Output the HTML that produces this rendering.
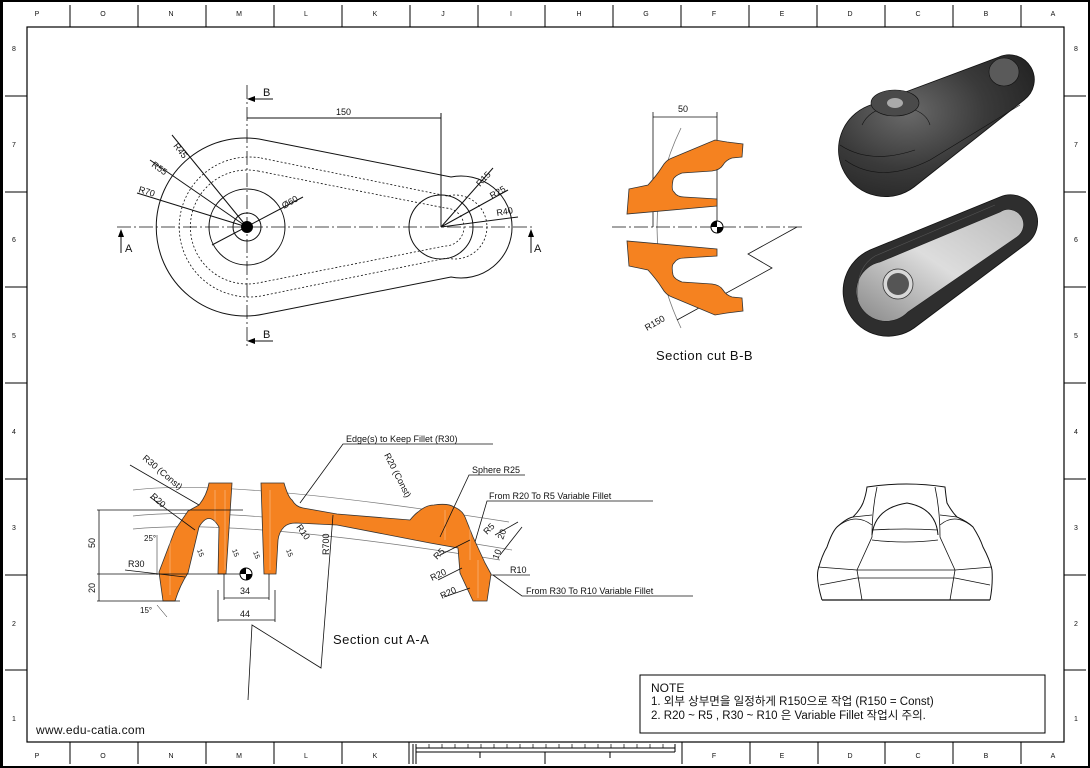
<!DOCTYPE html>
<html><head><meta charset="utf-8"><style>
html,body{margin:0;padding:0;background:#fff}
svg{display:block}
text{font-family:"Liberation Sans","Noto Sans CJK KR",sans-serif;fill:#111}
</style></head><body>
<svg width="1090" height="768" viewBox="0 0 1090 768" xmlns="http://www.w3.org/2000/svg">
<defs>
<radialGradient id="g1" cx="0.35" cy="0.4" r="0.8"><stop offset="0" stop-color="#6a6a6a"/><stop offset="0.5" stop-color="#3a3a3a"/><stop offset="1" stop-color="#1e1e1e"/></radialGradient>
<linearGradient id="g2" x1="0" y1="1" x2="1" y2="0"><stop offset="0" stop-color="#888"/><stop offset="0.5" stop-color="#ddd"/><stop offset="1" stop-color="#bbb"/></linearGradient>
</defs>
<rect x="1" y="1" width="1088" height="766" fill="none" stroke="#000" stroke-width="2"/>
<rect x="0" y="0" width="3" height="768" fill="#000"/>
<rect x="27" y="27" width="1037" height="715" fill="none" stroke="#000" stroke-width="1.2"/>
<g stroke="#000" stroke-width="1">
<line x1="70" y1="5" x2="70" y2="27"/><line x1="138" y1="5" x2="138" y2="27"/><line x1="206" y1="5" x2="206" y2="27"/><line x1="274" y1="5" x2="274" y2="27"/><line x1="342" y1="5" x2="342" y2="27"/><line x1="410" y1="5" x2="410" y2="27"/><line x1="478" y1="5" x2="478" y2="27"/><line x1="545" y1="5" x2="545" y2="27"/><line x1="613" y1="5" x2="613" y2="27"/><line x1="681" y1="5" x2="681" y2="27"/><line x1="749" y1="5" x2="749" y2="27"/><line x1="817" y1="5" x2="817" y2="27"/><line x1="885" y1="5" x2="885" y2="27"/><line x1="953" y1="5" x2="953" y2="27"/><line x1="1021" y1="5" x2="1021" y2="27"/>
<line x1="70" y1="742" x2="70" y2="764"/><line x1="138" y1="742" x2="138" y2="764"/><line x1="206" y1="742" x2="206" y2="764"/><line x1="274" y1="742" x2="274" y2="764"/><line x1="342" y1="742" x2="342" y2="764"/><line x1="409" y1="742" x2="409" y2="764"/><line x1="545" y1="752" x2="545" y2="764"/><line x1="682" y1="742" x2="682" y2="764"/><line x1="750" y1="742" x2="750" y2="764"/><line x1="818" y1="742" x2="818" y2="764"/><line x1="885" y1="742" x2="885" y2="764"/><line x1="953" y1="742" x2="953" y2="764"/><line x1="1021" y1="742" x2="1021" y2="764"/>
<line x1="5" y1="96" x2="27" y2="96"/><line x1="5" y1="192" x2="27" y2="192"/><line x1="5" y1="287" x2="27" y2="287"/><line x1="5" y1="383" x2="27" y2="383"/><line x1="5" y1="479" x2="27" y2="479"/><line x1="5" y1="575" x2="27" y2="575"/><line x1="5" y1="670" x2="27" y2="670"/>
<line x1="1064" y1="96" x2="1086" y2="96"/><line x1="1064" y1="192" x2="1086" y2="192"/><line x1="1064" y1="287" x2="1086" y2="287"/><line x1="1064" y1="383" x2="1086" y2="383"/><line x1="1064" y1="479" x2="1086" y2="479"/><line x1="1064" y1="575" x2="1086" y2="575"/><line x1="1064" y1="670" x2="1086" y2="670"/>
<line x1="416" y1="744" x2="416" y2="764"/><line x1="413" y1="744" x2="413" y2="764"/><line x1="675" y1="744" x2="675" y2="752"/>
<line x1="416" y1="752" x2="675" y2="752"/><line x1="416" y1="748" x2="675" y2="748"/>
<line x1="480" y1="752" x2="480" y2="758"/><line x1="610" y1="752" x2="610" y2="758"/>
</g>
<g stroke="#000" stroke-width="0.7">
<line x1="429" y1="744" x2="429" y2="748"/><line x1="442" y1="744" x2="442" y2="748"/><line x1="455" y1="744" x2="455" y2="748"/><line x1="468" y1="744" x2="468" y2="748"/><line x1="481" y1="744" x2="481" y2="748"/><line x1="494" y1="744" x2="494" y2="748"/><line x1="507" y1="744" x2="507" y2="748"/><line x1="520" y1="744" x2="520" y2="748"/><line x1="533" y1="744" x2="533" y2="748"/><line x1="546" y1="744" x2="546" y2="748"/><line x1="559" y1="744" x2="559" y2="748"/><line x1="572" y1="744" x2="572" y2="748"/><line x1="585" y1="744" x2="585" y2="748"/><line x1="598" y1="744" x2="598" y2="748"/><line x1="611" y1="744" x2="611" y2="748"/><line x1="624" y1="744" x2="624" y2="748"/><line x1="637" y1="744" x2="637" y2="748"/><line x1="650" y1="744" x2="650" y2="748"/><line x1="663" y1="744" x2="663" y2="748"/>
</g>
<g font-size="7" text-anchor="middle">
<text x="37" y="16">P</text><text x="103" y="16">O</text><text x="171" y="16">N</text><text x="239" y="16">M</text><text x="306" y="16">L</text><text x="375" y="16">K</text><text x="443" y="16">J</text><text x="511" y="16">I</text><text x="579" y="16">H</text><text x="646" y="16">G</text><text x="714" y="16">F</text><text x="782" y="16">E</text><text x="850" y="16">D</text><text x="918" y="16">C</text><text x="986" y="16">B</text><text x="1053" y="16">A</text>
<text x="37" y="758">P</text><text x="103" y="758">O</text><text x="171" y="758">N</text><text x="239" y="758">M</text><text x="306" y="758">L</text><text x="375" y="758">K</text><text x="714" y="758">F</text><text x="782" y="758">E</text><text x="850" y="758">D</text><text x="918" y="758">C</text><text x="986" y="758">B</text><text x="1053" y="758">A</text>
<text x="14" y="51">8</text><text x="14" y="147">7</text><text x="14" y="242">6</text><text x="14" y="338">5</text><text x="14" y="434">4</text><text x="14" y="530">3</text><text x="14" y="626">2</text><text x="14" y="721">1</text>
<text x="1076" y="51">8</text><text x="1076" y="147">7</text><text x="1076" y="242">6</text><text x="1076" y="338">5</text><text x="1076" y="434">4</text><text x="1076" y="530">3</text><text x="1076" y="626">2</text><text x="1076" y="721">1</text>
</g>

<!-- TOP VIEW -->
<g fill="none" stroke="#111" stroke-width="1">
<path d="M264,140 L451,177 A51 51 0 1 1 451,277 L264,314 A89 89 0 1 1 264,140Z"/>
<path d="M261,158 L447,196 A32 32 0 1 1 447,258 L261,296 A70 70 0 1 1 261,158Z" stroke-dasharray="2,2" stroke-width="0.8"/>
<path d="M258,171 L445,208 A19 19 0 1 1 445,246 L258,283 A57 57 0 1 1 258,171Z" stroke-dasharray="2,2" stroke-width="0.8"/>
<circle cx="247" cy="227" r="38"/><circle cx="247" cy="227" r="14"/><circle cx="441" cy="227" r="32"/>
<line x1="117" y1="227" x2="535" y2="227" stroke-dasharray="14,3,2,3" stroke-width="0.8"/>
<line x1="247" y1="85" x2="247" y2="346" stroke-dasharray="14,3,2,3" stroke-width="0.8"/>
<line x1="247" y1="118" x2="441" y2="118"/><line x1="441" y1="113" x2="441" y2="227"/>
<line x1="247" y1="227" x2="172" y2="135"/><line x1="247" y1="227" x2="150" y2="160"/><line x1="247" y1="227" x2="137" y2="193"/>
<line x1="212" y1="245" x2="303" y2="197"/>
<line x1="441" y1="227" x2="493" y2="168"/><line x1="441" y1="227" x2="508" y2="190"/><line x1="441" y1="227" x2="518" y2="217"/>
<line x1="253" y1="99" x2="273" y2="99"/><line x1="253" y1="341" x2="273" y2="341"/>
<line x1="121" y1="236" x2="121" y2="253"/><line x1="531" y1="236" x2="531" y2="253"/>
</g>
<circle cx="247" cy="227" r="6" fill="#000"/>
<path d="M247,99 l8,-3 v6z M247,341 l8,-3 v6z M121,229 l-3,8 h6z M531,229 l-3,8 h6z" fill="#000"/>
<g font-size="11">
<text x="263" y="96">B</text><text x="263" y="338">B</text><text x="125" y="252">A</text><text x="534" y="252">A</text>
</g>
<g font-size="9">
<text x="336" y="115">150</text>
<text transform="translate(173,146) rotate(52)">R45</text>
<text transform="translate(151,166) rotate(35)">R55</text>
<text transform="translate(138,192) rotate(17)">R70</text>
<text transform="translate(284,209) rotate(-30)">Ø60</text>
<text transform="translate(480,187) rotate(-47)">R15</text>
<text transform="translate(492,199) rotate(-30)">R25</text>
<text transform="translate(497,216) rotate(-10)">R40</text>
</g>

<!-- SECTION B-B -->
<g fill="none" stroke="#111" stroke-width="0.8">
<path d="M681,128 Q633,227 681,328" stroke="#777"/>
<line x1="612" y1="227" x2="805" y2="227" stroke-dasharray="14,3,2,3"/>
<line x1="653" y1="112" x2="653" y2="227"/><line x1="717" y1="112" x2="717" y2="227"/><line x1="653" y1="117" x2="717" y2="117"/>
<polyline points="797,227 748,254 772,268 677,320"/>
</g>
<g id="bb" fill="#f58220" stroke="#333" stroke-width="0.8">
<path d="M629,189 L648,185 Q657,175 662,167 Q666,160 672,158 L715,140 L727,142 L743,144 L742,157 L732,158 Q726,160 723,165 Q720,170 712,171 L682,173 Q674,176 673,180 Q671,190 674,192 Q677,197 684,197 L717,199 L717,206 L627,214 Z"/>
</g>
<use href="#bb" transform="translate(0,455) scale(1,-1)"/>
<circle cx="717" cy="227" r="6" fill="#fff" stroke="#000"/>
<path d="M717,221 A6 6 0 0 0 711,227 H717Z M717,233 A6 6 0 0 0 723,227 H717Z" fill="#000"/>
<text x="678" y="112" font-size="9">50</text>
<text transform="translate(647,331) rotate(-30)" font-size="9">R150</text>
<text x="656" y="360" font-size="13" letter-spacing="0.5">Section cut B-B</text>

<!-- 3D RENDERS -->
<path d="M868,106 L999,57 A25 25 0 0 1 1024,100 L914,187 A47 47 0 1 1 868,106Z" fill="url(#g1)" stroke="#111" stroke-width="0.8"/>
<path d="M845,160 Q880,185 930,160 L1020,105 M840,145 Q870,165 915,150" fill="none" stroke="#111" stroke-width="0.6"/>
<path d="M862,125 Q870,108 895,106 Q925,108 930,125" fill="none" stroke="#111" stroke-width="0.6"/>
<ellipse cx="895" cy="103" rx="24" ry="13" fill="#4a4a4a" stroke="#111" stroke-width="0.6"/>
<ellipse cx="895" cy="103" rx="8" ry="5" fill="#aaa"/>
<ellipse cx="1004" cy="72" rx="15" ry="14" fill="#5a5a5a" stroke="#111" stroke-width="0.6"/>
<path d="M870,250 L1000,197 A27 27 0 0 1 1026,244 L914,328 A45 45 0 1 1 870,250Z" fill="#2e2e2e" stroke="#111" stroke-width="0.8"/>
<path d="M880,262 L1000,212 A15 15 0 0 1 1017,237 L908,312 A30 30 0 1 1 880,262Z" fill="url(#g2)" stroke="#222" stroke-width="0.6"/>
<path d="M858,300 Q855,268 875,256 L995,205" fill="none" stroke="#555" stroke-width="0.6"/>
<circle cx="898" cy="284" r="15" fill="#d8d8d8" stroke="#333" stroke-width="0.8"/>
<circle cx="898" cy="284" r="11" fill="#555"/>

<!-- SECTION A-A -->
<g fill="none" stroke="#777" stroke-width="0.7">
<path d="M133,490 Q230,478 509,522"/>
<path d="M133,516 Q240,504 512,550"/>
<path d="M133,529 Q240,518 500,560"/>
</g>
<g fill="#f58220" stroke="#333" stroke-width="0.8">
<path d="M163,601 L159,572 L175,530 L188,511 L199,505 Q207,495 209,483 L232,483 L226,574 L218,574 L219,527 Q209,510 199,527 L188,573 Q180,585 175,601 Z"/>
<path d="M261,483 L284,483 Q288,497 292,500 Q296,507 303,508 L337,514 L410,520 Q415,514 418,512 Q426,505 434,505 Q448,503 454,507 Q462,510 465,517 L473,537 L485,563 L491,574 L487,601 L473,601 L460,573 L458,548 L430,543 L337,525 L296,523 Q288,523 284,527 Q279,532 278,540 L276,574 L268,574 L264,574 Z"/>
</g>
<g stroke="#fff" stroke-width="0.6" opacity="0.5">
<line x1="170" y1="540" x2="170" y2="595"/><line x1="215" y1="490" x2="215" y2="570"/><line x1="225" y1="490" x2="225" y2="570"/><line x1="270" y1="490" x2="270" y2="570"/><line x1="445" y1="510" x2="445" y2="540"/><line x1="470" y1="520" x2="470" y2="560"/><line x1="478" y1="560" x2="478" y2="598"/>
</g>
<circle cx="246" cy="574" r="6" fill="#fff" stroke="#000"/>
<path d="M246,568 A6 6 0 0 0 240,574 H246Z M246,580 A6 6 0 0 0 252,574 H246Z" fill="#000"/>
<g fill="none" stroke="#111" stroke-width="0.8">
<line x1="97" y1="510" x2="243" y2="510"/><line x1="97" y1="574" x2="240" y2="574"/><line x1="97" y1="601" x2="180" y2="601"/>
<line x1="99" y1="510" x2="99" y2="601"/>
<line x1="224" y1="574" x2="224" y2="600"/><line x1="269" y1="574" x2="269" y2="600"/><line x1="224" y1="598" x2="269" y2="598"/>
<line x1="218" y1="590" x2="218" y2="622"/><line x1="275" y1="590" x2="275" y2="622"/><line x1="218" y1="620" x2="275" y2="620"/>
<polyline points="248,700 252,625 321,668 333,515"/>
<polyline points="493,444 343,444 300,503"/>
<polyline points="525,475 469,475 440,537"/>
<polyline points="653,501 487,501 475,542"/>
<polyline points="693,596 522,596 493,575"/>
<line x1="491" y1="575" x2="530" y2="575"/>
<line x1="130" y1="465" x2="199" y2="505"/><line x1="150" y1="497" x2="195" y2="530"/>
<line x1="125" y1="570" x2="185" y2="577"/>
<line x1="157" y1="535" x2="157" y2="575" stroke-width="0.5"/><line x1="157" y1="605" x2="167" y2="617" stroke-width="0.5"/>
<line x1="495" y1="535" x2="518" y2="522"/><line x1="440" y1="555" x2="470" y2="540"/>
<line x1="438" y1="580" x2="462" y2="568"/><line x1="444" y1="597" x2="470" y2="588"/>
<line x1="500" y1="555" x2="522" y2="527"/>
</g>
<g font-size="9">
<text x="346" y="442">Edge(s) to Keep Fillet (R30)</text>
<text x="472" y="473">Sphere R25</text>
<text x="489" y="499">From R20 To R5 Variable Fillet</text>
<text x="526" y="594">From R30 To R10 Variable Fillet</text>
<text x="510" y="573">R10</text>
<text transform="translate(142,459) rotate(40)">R30 (Const)</text>
<text transform="translate(384,455) rotate(63)">R20 (Const)</text>
<text transform="translate(150,497) rotate(42)">R20</text>
<text x="128" y="567">R30</text>
<text x="144" y="541" font-size="8">25°</text>
<text x="140" y="613" font-size="8">15°</text>
<text transform="translate(95,548) rotate(-90)">50</text>
<text transform="translate(95,593) rotate(-90)">20</text>
<text x="240" y="594">34</text>
<text x="240" y="617">44</text>
<text transform="translate(296,527) rotate(55)">R10</text>
<text transform="translate(329,555) rotate(-90)">R700</text>
<text transform="translate(437,560) rotate(-45)">R5</text>
<text transform="translate(487,535) rotate(-45)">R5</text>
<text transform="translate(432,581) rotate(-25)">R20</text>
<text transform="translate(442,599) rotate(-25)">R20</text>
<text transform="translate(503,540) rotate(-70)">20</text>
<text transform="translate(498,560) rotate(-70)">10</text>
<text transform="translate(197,550) rotate(70)" font-size="7">15</text>
<text transform="translate(232,550) rotate(70)" font-size="7">15</text>
<text transform="translate(253,552) rotate(70)" font-size="7">15</text>
<text transform="translate(286,550) rotate(70)" font-size="7">15</text>
</g>
<text x="333" y="644" font-size="13" letter-spacing="0.5">Section cut A-A</text>

<!-- FRONT VIEW -->
<g fill="none" stroke="#111" stroke-width="1">
<line x1="822" y1="600" x2="990" y2="600" stroke-width="1.3"/>
<path d="M822,600 Q816,580 818,570 Q822,555 827,547 Q832,532 837,527 Q847,518 853,517 Q860,510 863,503 Q866,495 867,487 Q907,481 945,487 Q946,497 947,503 Q952,512 957,517 Q968,522 973,527 Q980,538 983,547 Q990,560 992,570 Q993,585 990,600"/>
<path d="M872,535 Q875,508 907,503 Q936,508 938,535"/>
<path d="M872,530 Q905,528 938,530 M872,540 Q905,544 938,540" stroke-width="0.8"/>
<path d="M877,487 Q872,510 872,537 L857,570 L862,600 M935,487 Q940,510 940,537 L955,570 L950,600" stroke-width="0.8"/>
<path d="M857,570 L955,570 M857,578 L955,578 M818,567 L857,570 M820,585 L857,578 M955,570 L992,567 M955,578 L990,585" stroke-width="0.8"/>
<path d="M837,527 Q855,512 872,525 M973,527 Q955,512 940,525 M853,517 L872,515 M957,517 L940,515" stroke-width="0.7"/>
</g>

<!-- NOTE -->
<rect x="640" y="675" width="405" height="58" fill="none" stroke="#000" stroke-width="1"/>
<text x="651" y="692" font-size="12">NOTE</text>
<text x="651" y="705" font-size="11.5">1. 외부 상부면을 일정하게 R150으로 작업 (R150 = Const)</text>
<text x="651" y="719" font-size="11.5">2. R20 ~ R5 , R30 ~ R10 은 Variable Fillet 작업시 주의.</text>
<text x="36" y="734" font-size="12" letter-spacing="0.3">www.edu-catia.com</text>
</svg>
</body></html>
